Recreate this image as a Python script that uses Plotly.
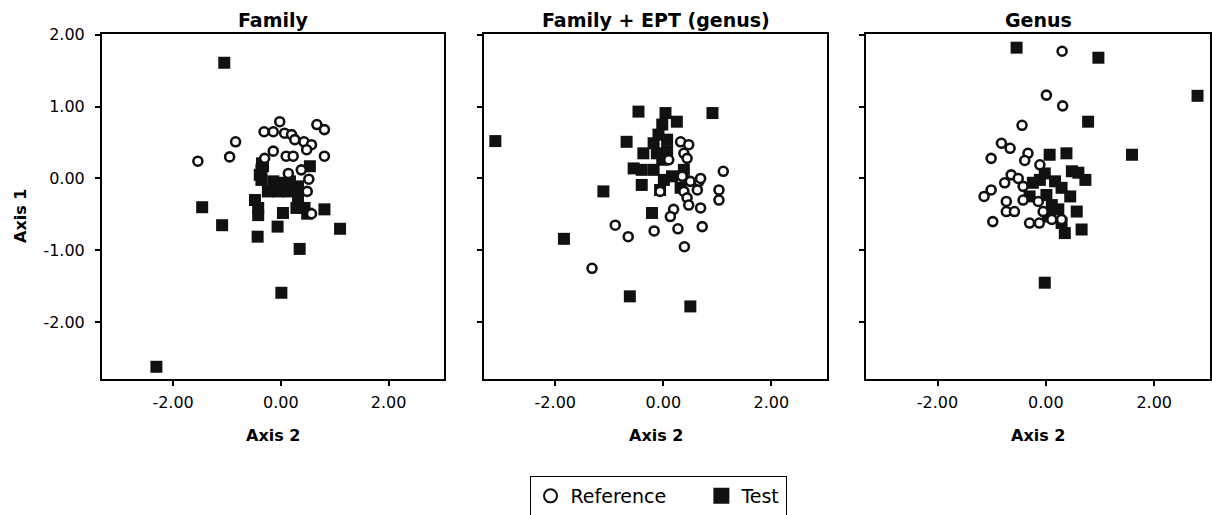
import plotly.graph_objects as go

# ---------------- data (Axis 2 = x, Axis 1 = y) ----------------
panel_titles = ["Family", "Family + EPT (genus)", "Genus"]
tick_vals = [-2, -1, 0, 1, 2]
x_tick_vals = [-2, 0, 2]
x_tick_text = ["-2.00", "0.00", "2.00"]
y_tick_text = ["-2.00", "-1.00", "0.00", "1.00", "2.00"]
legend_names = ["Reference", "Test"]

# Panel 1: Family
fam_ref_x = [-1.54, -0.95, -0.84, -0.31, -0.14, -0.02, 0.07, 0.20, 0.26, 0.43, 0.57, 0.48,
             0.67, 0.81, -0.14, -0.30, 0.10, 0.23, 0.81, 0.14, 0.38, 0.52, 0.49, 0.57]
fam_ref_y = [0.24, 0.30, 0.51, 0.65, 0.65, 0.79, 0.63, 0.61, 0.54, 0.51, 0.47, 0.40,
             0.75, 0.68, 0.38, 0.28, 0.31, 0.31, 0.31, 0.07, 0.12, -0.01, -0.18, -0.49]
fam_test_x = [-1.05, -2.31, -1.46, -1.09, -0.43, 0.01, 0.35, -0.06, -0.33, -0.35, -0.39,
              -0.36, -0.36, -0.14, -0.02, 0.17, -0.24, -0.05, 0.14, 0.32, 0.32, 0.54,
              -0.48, -0.42, -0.42, 0.04, 0.29, 0.44, 0.49, 0.81, 1.10]
fam_test_y = [1.61, -2.62, -0.40, -0.65, -0.81, -1.59, -0.98, -0.67, 0.17, 0.21, 0.05,
              0.12, -0.02, -0.04, -0.06, -0.04, -0.18, -0.18, -0.18, -0.11, -0.27, 0.17,
              -0.30, -0.41, -0.51, -0.48, -0.41, -0.41, -0.49, -0.43, -0.70]

# Panel 2: Family + EPT (genus)
ept_ref_x = [-1.32, -0.89, -0.65, -0.17, 0.27, 0.39, 0.72, 1.11, 0.32, 0.47, 0.38, 0.44,
             0.10, 0.35, 0.50, 0.66, 0.69, 0.63, 0.38, 0.44, 0.47, 0.69, -0.06, 0.19,
             0.13, 1.03, 1.03]
ept_ref_y = [-1.25, -0.65, -0.81, -0.73, -0.70, -0.95, -0.67, 0.10, 0.51, 0.47, 0.35, 0.28,
             0.26, 0.03, -0.04, -0.04, 0.00, -0.16, -0.18, -0.27, -0.37, -0.41, -0.18, -0.43,
             -0.53, -0.16, -0.30]
ept_test_x = [-3.11, -1.84, -0.62, 0.50, -0.46, 0.04, 0.25, 0.91, -0.68, -0.02, -0.09,
              0.07, -0.18, -0.37, -0.12, 0.07, -0.02, -0.55, -0.40, -0.18, -0.40, 0.01,
              0.16, -0.06, 0.38, 0.32, -1.11, -0.21]
ept_test_y = [0.52, -0.84, -1.64, -1.78, 0.93, 0.91, 0.79, 0.91, 0.51, 0.75, 0.61,
              0.54, 0.49, 0.35, 0.35, 0.38, 0.26, 0.14, 0.12, 0.12, -0.09, -0.02,
              0.03, -0.16, 0.12, -0.13, -0.18, -0.48]

# Panel 3: Genus
gen_ref_x = [0.30, 0.01, 0.31, -0.44, -0.82, -0.66, -0.33, -0.39, -0.11, -1.01, -0.64,
             -0.51, -0.76, -1.01, -1.14, -0.42, -0.42, -0.73, -0.73, -0.58, -0.14, -0.05,
             -0.30, -0.12, 0.11, 0.29, -0.98]
gen_ref_y = [1.77, 1.16, 1.01, 0.74, 0.49, 0.42, 0.35, 0.25, 0.19, 0.28, 0.05,
             0.00, -0.06, -0.16, -0.25, -0.11, -0.30, -0.32, -0.46, -0.46, -0.32, -0.46,
             -0.62, -0.62, -0.57, -0.57, -0.60]
gen_test_x = [-0.54, 0.97, 2.80, 0.78, 1.59, -0.02, 0.07, 0.38, 0.48, 0.60, 0.73, -0.02,
              -0.24, 0.17, 0.29, 0.45, -0.30, 0.01, 0.11, 0.23, 0.04, 0.57, 0.29, 0.35,
              0.66, -0.11]
gen_test_y = [1.82, 1.68, 1.15, 0.79, 0.33, -1.45, 0.33, 0.35, 0.10, 0.08, -0.02, 0.07,
              -0.06, -0.04, -0.13, -0.25, -0.25, -0.23, -0.37, -0.43, -0.53, -0.46, -0.62, -0.76,
              -0.71, -0.02]

ref_x = [fam_ref_x, ept_ref_x, gen_ref_x]
ref_y = [fam_ref_y, ept_ref_y, gen_ref_y]
test_x = [fam_test_x, ept_test_x, gen_test_x]
test_y = [fam_test_y, ept_test_y, gen_test_y]

# ---------------- layout geometry ----------------
W, H = 1212, 515
FONT = "DejaVu Sans"
x_domains = [[102 / W, 444 / W], [484 / W, 827 / W], [866 / W, 1210 / W]]
y_domain = [1 - 379 / H, 1 - 34 / H]
x_range = [-3.32, 3.03]
y_range = [-2.79, 2.01]

fig = go.Figure()

for i in range(3):
    xa = "x" if i == 0 else f"x{i+1}"
    ya = "y" if i == 0 else f"y{i+1}"
    fig.add_trace(go.Scatter(
        x=test_x[i], y=test_y[i], mode="markers", xaxis=xa, yaxis=ya,
        marker=dict(symbol="square", size=12, color="#111111", line=dict(width=0)),
        showlegend=False, hoverinfo="skip"))
    fig.add_trace(go.Scatter(
        x=ref_x[i], y=ref_y[i], mode="markers", xaxis=xa, yaxis=ya,
        marker=dict(symbol="circle", size=9, color="white",
                    line=dict(width=2.6, color="#111111")),
        showlegend=False, hoverinfo="skip"))

# legend entries
fig.add_trace(go.Scatter(x=[None], y=[None], mode="markers",
                         name=legend_names[0] + "\u00a0" * 5,
                         marker=dict(symbol="circle", size=13, color="white",
                                     line=dict(width=2, color="#111111")),
                         legendrank=1))
fig.add_trace(go.Scatter(x=[None], y=[None], mode="markers", name=legend_names[1],
                         marker=dict(symbol="square", size=16, color="#111111",
                                     line=dict(width=0)),
                         legendrank=2))

axis_common = dict(showline=True, linecolor="black", linewidth=2, mirror=True,
                   showgrid=False, zeroline=False, ticks="outside", ticklen=5,
                   tickwidth=2, tickcolor="black",
                   tickfont=dict(family=FONT, size=16, color="black"))

for i in range(3):
    xkey = "xaxis" if i == 0 else f"xaxis{i+1}"
    ykey = "yaxis" if i == 0 else f"yaxis{i+1}"
    anchor_x = "y" if i == 0 else f"y{i+1}"
    anchor_y = "x" if i == 0 else f"x{i+1}"
    fig.update_layout(**{
        xkey: dict(axis_common, domain=x_domains[i], range=x_range, anchor=anchor_x,
                   tickvals=x_tick_vals, ticktext=x_tick_text, ticklabelstandoff=3,
                   automargin=False),
        ykey: dict(axis_common, domain=y_domain, range=y_range, anchor=anchor_y,
                   tickvals=tick_vals, ticktext=y_tick_text,
                   showticklabels=(i == 0), ticklabelstandoff=7, automargin=False),
    })

annotations = []
for i in range(3):
    cx = (x_domains[i][0] + x_domains[i][1]) / 2
    annotations.append(dict(text=f"<b>{panel_titles[i]}</b>", x=cx, y=1 - 20 / H,
                            xref="paper", yref="paper", showarrow=False,
                            xanchor="center", yanchor="middle",
                            font=dict(family=FONT, size=19, color="black")))
    annotations.append(dict(text="<b>Axis 2</b>", x=cx, y=1 - 435 / H,
                            xref="paper", yref="paper", showarrow=False,
                            xanchor="center", yanchor="middle",
                            font=dict(family=FONT, size=16, color="black")))
annotations.append(dict(text="<b>Axis 1</b>", x=20 / W, y=1 - 216 / H,
                        xref="paper", yref="paper", showarrow=False, textangle=-90,
                        xanchor="center", yanchor="middle",
                        font=dict(family=FONT, size=16, color="black")))

fig.update_layout(
    width=W, height=H,
    margin=dict(l=0, r=0, t=0, b=0, autoexpand=False),
    paper_bgcolor="white", plot_bgcolor="white",
    annotations=annotations,
    legend=dict(orientation="h", x=658 / W, xanchor="center", y=1 - 476 / H,
                yanchor="top", bordercolor="black", borderwidth=1,
                font=dict(family=FONT, size=19, color="black"),
                itemsizing="trace"),
    showlegend=True,
)

fig.write_html("out.html")
